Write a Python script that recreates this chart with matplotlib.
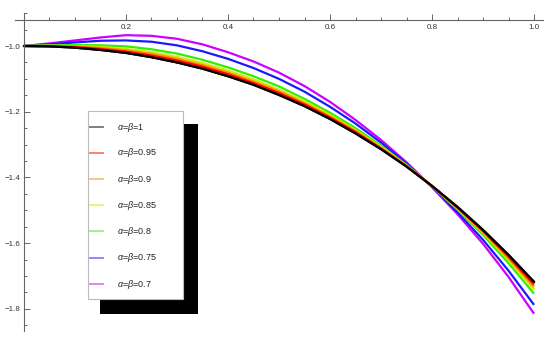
import matplotlib.pyplot as plt
from matplotlib.patches import Rectangle
from matplotlib.lines import Line2D

# x samples and curves
x = [0.0, 0.05, 0.1, 0.15, 0.2, 0.25, 0.3, 0.35, 0.4, 0.45, 0.5,
     0.55, 0.6, 0.65, 0.7, 0.75, 0.8, 0.85, 0.9, 0.95, 1.0]

y_100 = [-1.000, -1.001, -1.005, -1.012, -1.021, -1.034, -1.050, -1.069, -1.092, -1.118, -1.149,
         -1.183, -1.222, -1.266, -1.314, -1.367, -1.426, -1.490, -1.560, -1.636, -1.718]
y_095 = [-1.000, -1.001, -1.003, -1.009, -1.017, -1.029, -1.044, -1.063, -1.086, -1.113, -1.143,
         -1.178, -1.218, -1.262, -1.312, -1.366, -1.426, -1.492, -1.563, -1.641, -1.726]
y_090 = [-1.000, -1.000, -1.002, -1.006, -1.013, -1.024, -1.039, -1.058, -1.081, -1.108, -1.138,
         -1.174, -1.214, -1.259, -1.310, -1.365, -1.426, -1.493, -1.566, -1.646, -1.733]
y_085 = [-1.000, -0.999, -1.000, -1.003, -1.009, -1.019, -1.033, -1.052, -1.075, -1.102, -1.133,
         -1.169, -1.210, -1.256, -1.307, -1.364, -1.426, -1.495, -1.569, -1.651, -1.741]
y_080 = [-1.000, -0.998, -0.997, -0.998, -1.001, -1.010, -1.023, -1.042, -1.065, -1.092, -1.123,
         -1.161, -1.203, -1.250, -1.303, -1.362, -1.427, -1.498, -1.575, -1.661, -1.754]
y_075 = [-1.000, -0.995, -0.989, -0.984, -0.983, -0.987, -0.998, -1.016, -1.039, -1.067, -1.100,
         -1.139, -1.185, -1.236, -1.294, -1.358, -1.428, -1.506, -1.590, -1.684, -1.788]
y_070 = [-1.000, -0.992, -0.983, -0.974, -0.967, -0.969, -0.978, -0.995, -1.019, -1.047, -1.081,
         -1.122, -1.170, -1.225, -1.286, -1.354, -1.430, -1.512, -1.602, -1.703, -1.815]

labels = [r'$\alpha$=$\beta$=1', r'$\alpha$=$\beta$=0.95', r'$\alpha$=$\beta$=0.9',
          r'$\alpha$=$\beta$=0.85', r'$\alpha$=$\beta$=0.8', r'$\alpha$=$\beta$=0.75',
          r'$\alpha$=$\beta$=0.7']
series = [y_100, y_095, y_090, y_085, y_080, y_075, y_070]
colors = ['#000000', '#ff0000', '#ff8c00', '#ccee00', '#33ee00', '#1a1aff', '#cc00ff']

plt.rcParams['font.family'] = ['Liberation Sans', 'DejaVu Sans']
plt.rcParams['mathtext.fontset'] = 'custom'
plt.rcParams['mathtext.it'] = 'Liberation Sans:italic'
plt.rcParams['mathtext.rm'] = 'Liberation Sans'

W, H = 550, 338
fig = plt.figure(figsize=(W / 100, H / 100), dpi=100)
ax = fig.add_axes([15 / W, 7 / H, 528 / W, 318 / H])

# draw black last so the stack order matches
for ys, c in list(zip(series, colors))[::-1]:
    ax.plot(x, ys, color=c, lw=1.6, solid_capstyle='butt')
ax.plot(x, y_100, color='#000000', lw=1.6, zorder=1)

ax.set_xlim(-0.0176, 1.0176)
ax.set_ylim(-1.8676, -0.8995)

for s in ['top', 'right']:
    ax.spines[s].set_visible(False)
ax.spines['left'].set_position(('data', 0))
ax.spines['bottom'].set_position(('data', -0.921))
for s in ['left', 'bottom']:
    ax.spines[s].set_color('#666666')
    ax.spines[s].set_linewidth(0.8)

ax.set_xticks([0.2, 0.4, 0.6, 0.8, 1.0])
ax.set_xticklabels(['0.2', '0.4', '0.6', '0.8', '1.0'])
ax.set_xticks([0.05 * i for i in range(1, 21) if i % 4 != 0], minor=True)
ax.set_yticks([-1.8, -1.6, -1.4, -1.2, -1.0])
ax.set_yticklabels(['\u22121.8', '\u22121.6', '\u22121.4', '\u22121.2', '\u22121.0'])
ax.set_yticks([-1.85, -1.75, -1.7, -1.65, -1.55, -1.5, -1.45, -1.35, -1.3, -1.25,
               -1.15, -1.1, -1.05, -0.95, -0.9], minor=True)
ax.tick_params(which='both', direction='in', color='#666666', labelsize=5.8,
               labelcolor='#333333', width=0.7)
ax.tick_params(which='major', length=4, pad=2.5)
ax.tick_params(which='minor', length=2.3)

# legend box with black drop shadow (Mathematica style)
def fx(px):
    return px / W

def fy(py):
    return 1 - py / H

fig.patches.append(Rectangle((fx(100), fy(314)), (198 - 100) / W, (314 - 124) / H,
                             transform=fig.transFigure, facecolor='black',
                             edgecolor='none', zorder=5))
fig.patches.append(Rectangle((fx(88), fy(299)), (183 - 88) / W, (299 - 111) / H,
                             transform=fig.transFigure, facecolor='white',
                             edgecolor='#bbbbbb', lw=0.8, zorder=6))
rows = [127, 152.7, 179, 205, 231.3, 258, 284.3]
for r, c, lab in zip(rows, colors, labels):
    fig.add_artist(Line2D([fx(90), fx(103)], [fy(r), fy(r)], transform=fig.transFigure,
                          color=c, alpha=0.55, lw=1.3, zorder=7))
    fig.text(fx(117), fy(r), lab, fontsize=6.5, color='#222222', va='center',
             ha='left', zorder=7)

fig.savefig('out.png', dpi=100)
